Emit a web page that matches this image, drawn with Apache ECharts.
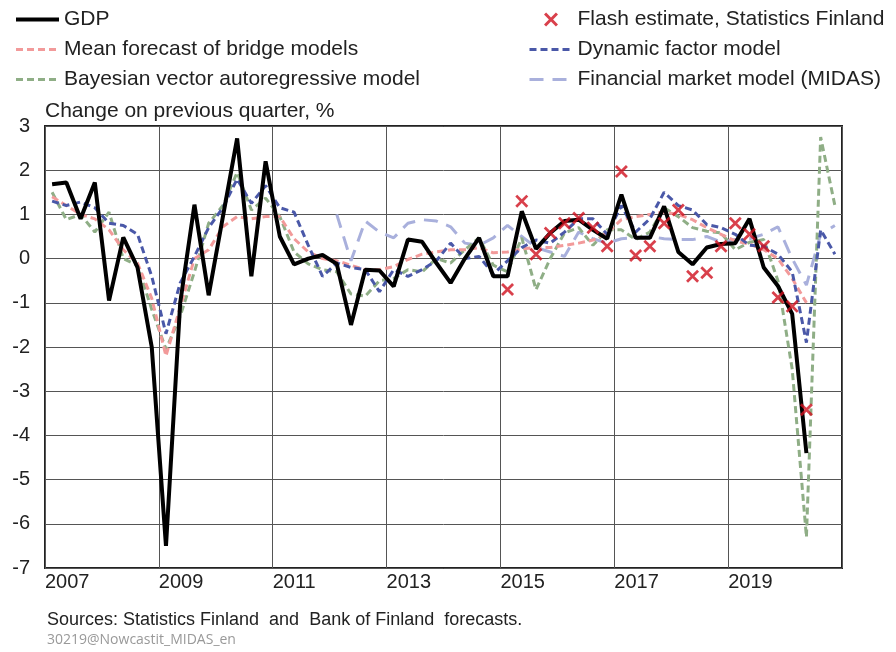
<!DOCTYPE html>
<html>
<head>
<meta charset="utf-8">
<script src="https://cdn.jsdelivr.net/npm/echarts@6/dist/echarts.min.js"></script>
<style>
  html, body { margin: 0; padding: 0; background: #fff; }
  #chart { width: 896px; height: 652px; }
</style>
</head>
<body>
<div id="chart"></div>
<script>
// quarters 2007Q1 .. 2020Q4, one category per quarter
const years = [2007, 2008, 2009, 2010, 2011, 2012, 2013, 2014, 2015, 2016, 2017, 2018, 2019, 2020]
const quarters = []
years.forEach(y => ['Q1', 'Q2', 'Q3', 'Q4'].forEach(q => quarters.push(y + q)))
const tickLabels = ['2007', '2009', '2011', '2013', '2015', '2017', '2019']

// GDP, change on previous quarter, %  (from 2007Q1)
const gdp = [1.68, 1.72, 0.9, 1.72, -0.95, 0.48, -0.2, -2.0, -6.5, -1.0,
  1.22, -0.83, 0.95, 2.72, -0.4, 2.2, 0.5, -0.13, 0.0, 0.08,
  -0.12, -1.5, -0.25, -0.27, -0.63, 0.43, 0.38, -0.1, -0.55, 0.0,
  0.47, -0.4, -0.4, 1.07, 0.22, 0.58, 0.85, 0.88, 0.65, 0.45,
  1.45, 0.47, 0.47, 1.18, 0.15, -0.13, 0.25, 0.33, 0.35, 0.9,
  -0.2, -0.62, -1.25, -4.4]

// flash estimates (from 2015Q1)
const flashStart = 32
const flash = [-0.7, 1.3, 0.1, 0.58, 0.8, 0.92, 0.7, 0.28, 1.97, 0.07,
  0.28, 0.8, 1.1, -0.4, -0.32, 0.28, 0.8, 0.55, 0.28, -0.88,
  -1.08, -3.42]

// mean forecast of bridge models (from 2007Q1)
const bridge = [1.4, 1.2, 1.0, 0.9, 0.65, 0.2, -0.1, -0.9, -2.2, -1.1,
  0.0, 0.2, 0.72, 0.95, 0.9, 0.95, 0.95, 0.45, 0.15, 0.0,
  -0.05, -0.15, -0.25, -0.25, -0.18, -0.02, 0.1, 0.15, 0.2, 0.2,
  0.25, 0.13, 0.15, 0.22, 0.25, 0.25, 0.3, 0.35, 0.42, 0.58,
  0.88, 0.95, 1.0, 1.05, 1.0, 0.88, 0.7, 0.55, 0.4, 0.33,
  0.2, 0.0, -0.45, -1.0]

// dynamic factor model (from 2007Q1)
const dfm = [1.3, 1.2, 1.28, 1.15, 0.8, 0.75, 0.55, -0.4, -1.7, -0.55,
  0.05, 0.7, 1.15, 1.8, 1.25, 1.65, 1.15, 1.05, 0.3, -0.4,
  -0.1, -0.2, -0.25, -0.75, -0.25, -0.4, -0.25, -0.05, 0.35, 0.0,
  0.05, -0.35, -0.05, 0.25, 0.42, 0.35, 0.6, 0.9, 0.9, 0.55,
  1.2, 0.6, 0.9, 1.5, 1.2, 1.1, 0.77, 0.7, 0.55, 0.3,
  0.28, 0.1, -0.3, -1.9, 0.65, 0.1]

// Bayesian VAR (from 2007Q1)
const bvar = [1.5, 0.88, 1.0, 0.6, 1.05, 0.0, -0.15, -1.15, -2.05, -1.3,
  -0.3, 0.8, 1.2, 1.95, 1.1, 1.37, 0.95, 0.15, -0.12, -0.25,
  -0.3, -0.8, -0.85, -0.5, -0.45, -0.25, -0.3, 0.0, -0.1, 0.2,
  0.47, -0.15, -0.3, 0.47, -0.7, 0.0, 0.58, 0.7, 0.3, 0.65,
  0.65, 0.43, 0.6, 1.15, 0.95, 0.7, 0.62, 0.58, 0.2, 0.37,
  0.43, -0.5, -2.5, -6.3, 2.75, 1.2]

// financial market model (MIDAS), from 2012Q1
const midasStart = 20
const midas = [1.0, -0.05, 0.85, 0.6, 0.47, 0.8, 0.88, 0.85, 0.72, 0.35,
  0.3, 0.47, 0.75, 0.5, 0.25, 0.15, 0.05, 0.6, 0.45, 0.35,
  0.45, 0.47, 0.5, 0.45, 0.43, 0.43, 0.5, 0.38, 0.43, 0.45,
  0.55, 0.72, 0.0, -0.6, 0.55, 0.75]

// place each value in the middle of its quarter
function toPoints(values, start) {
  return values.map((v, k) => [start + k + 0.5, v])
}

const cross = 'path://M1.5,0 L5,3.5 L8.5,0 L10,1.5 L6.5,5 L10,8.5 L8.5,10 L5,6.5 L1.5,10 L0,8.5 L3.5,5 L0,1.5 Z'
const font = 'Liberation Sans, Arial, sans-serif'
const legendText = { fontFamily: font, fontSize: 21, color: '#222' }
const noDot = { opacity: 0 }

const chart = echarts.init(document.getElementById('chart'))
chart.setOption({
  animation: false,
  grid: {
    left: 45,
    right: 54,
    top: 126,
    bottom: 84,
    show: true,
    borderColor: '#222',
    borderWidth: 2
  },
  legend: [
    {
      orient: 'vertical',
      left: 9,
      top: 4,
      itemWidth: 43,
      itemHeight: 14,
      itemGap: 9,
      textStyle: legendText,
      data: [
        { name: 'GDP', itemStyle: noDot, lineStyle: { width: 4 } },
        { name: 'Mean forecast of bridge models', itemStyle: noDot, lineStyle: { width: 3 } },
        { name: 'Bayesian vector autoregressive model', itemStyle: noDot, lineStyle: { width: 3 } }
      ]
    },
    {
      orient: 'vertical',
      left: 523,
      top: 4,
      itemWidth: 43,
      itemHeight: 14,
      itemGap: 9,
      textStyle: legendText,
      data: [
        'Flash estimate, Statistics Finland',
        { name: 'Dynamic factor model', itemStyle: noDot, lineStyle: { width: 3 } },
        { name: 'Financial market model (MIDAS)', itemStyle: noDot, lineStyle: { width: 3 } }
      ]
    }
  ],
  xAxis: {
    type: 'value',
    min: 0,
    max: quarters.length,
    interval: 8,
    axisLine: { show: false },
    axisTick: { show: false },
    splitLine: { show: true, lineStyle: { color: '#555', width: 1 } },
    axisLabel: {
      align: 'left',
      margin: 4,
      fontFamily: font,
      fontSize: 20,
      color: '#222',
      formatter: v => tickLabels[v / 8] || ''
    }
  },
  yAxis: {
    type: 'value',
    min: -7,
    max: 3,
    interval: 1,
    name: 'Change on previous quarter, %',
    nameLocation: 'end',
    nameGap: 15,
    nameTextStyle: { fontFamily: font, fontSize: 21, color: '#222', align: 'left', verticalAlign: 'middle' },
    axisLine: { show: false },
    axisTick: { show: false },
    splitLine: { lineStyle: { color: '#555', width: 1 } },
    axisLabel: { margin: 15, fontFamily: font, fontSize: 20, color: '#222' }
  },
  series: [
    {
      name: 'Financial market model (MIDAS)',
      type: 'line',
      data: toPoints(midas, midasStart),
      symbol: 'none',
      lineStyle: { color: '#a9b0dc', width: 3, type: [14, 9] },
      itemStyle: { color: '#a9b0dc' }
    },
    {
      name: 'Bayesian vector autoregressive model',
      type: 'line',
      data: toPoints(bvar, 0),
      symbol: 'none',
      lineStyle: { color: '#8fae86', width: 3, type: [7, 4] },
      itemStyle: { color: '#8fae86' }
    },
    {
      name: 'Mean forecast of bridge models',
      type: 'line',
      data: toPoints(bridge, 0),
      symbol: 'none',
      lineStyle: { color: '#f29a9a', width: 3, type: [7, 4] },
      itemStyle: { color: '#f29a9a' }
    },
    {
      name: 'Dynamic factor model',
      type: 'line',
      data: toPoints(dfm, 0),
      symbol: 'none',
      lineStyle: { color: '#4a58a8', width: 3, type: [7, 4] },
      itemStyle: { color: '#4a58a8' }
    },
    {
      name: 'GDP',
      type: 'line',
      data: toPoints(gdp, 0),
      symbol: 'none',
      lineStyle: { color: '#000', width: 4 },
      itemStyle: { color: '#000' }
    },
    {
      name: 'Flash estimate, Statistics Finland',
      type: 'scatter',
      data: toPoints(flash, flashStart),
      symbol: cross,
      symbolSize: 13,
      itemStyle: { color: '#d0101e' },
      z: 5
    }
  ],
  graphic: [
    {
      type: 'text',
      left: 47,
      top: 611,
      style: {
        text: 'Sources: Statistics Finland  and  Bank of Finland  forecasts.',
        font: '18px ' + font,
        fill: '#222'
      }
    },
    {
      type: 'text',
      left: 47,
      top: 633,
      style: {
        text: '30219@Nowcastit_MIDAS_en',
        font: '14px "Open Sans", sans-serif',
        fill: '#999'
      }
    }
  ]
})
</script>
</body>
</html>
